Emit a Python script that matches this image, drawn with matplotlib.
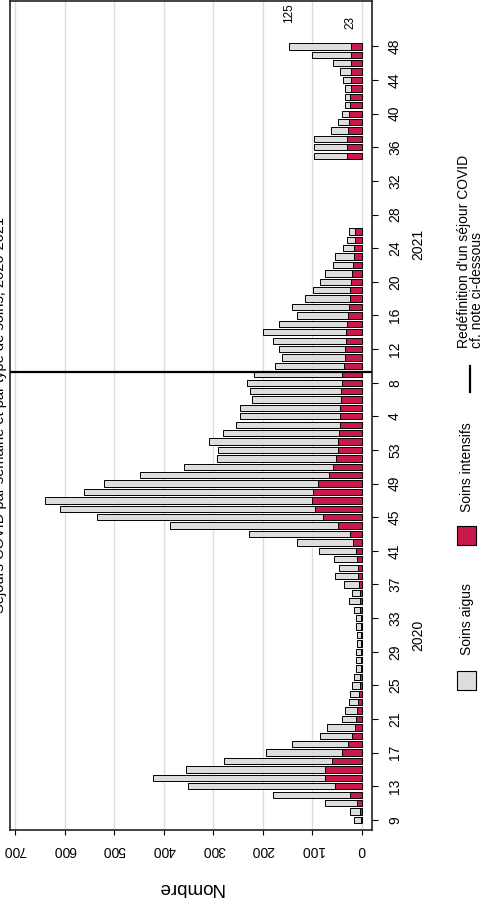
import matplotlib.pyplot as plt
import matplotlib.transforms as mtransforms
from matplotlib.patches import Rectangle
from matplotlib.lines import Line2D
import numpy as np

plt.rcParams['font.family'] = ['Liberation Sans', 'DejaVu Sans']

# semaines 2020 (9..53) et 2021 (1..48)
weeks_2020 = list(range(9, 54))
weeks_2021 = list(range(1, 49))

aigus_2020 = [14, 19, 64, 156, 297, 348, 282, 219, 153, 112, 64, 56, 28, 24, 19, 18,
              15, 13, 10, 10, 10, 7, 7, 10, 10, 13, 22, 15, 31, 46, 39, 47, 75, 114,
              204, 340, 457, 515, 540, 462, 432, 382, 302, 240, 242]
intensifs_2020 = [3, 5, 10, 24, 55, 74, 74, 60, 40, 29, 20, 15, 12, 10, 8, 6,
                  5, 4, 3, 3, 3, 3, 3, 3, 3, 4, 5, 5, 6, 8, 8, 10, 12, 18,
                  25, 48, 78, 95, 100, 98, 88, 66, 58, 52, 48]

aigus_2021 = [260, 234, 209, 202, 202, 179, 185, 191, 178, 138, 126, 133, 147, 168,
              137, 103, 114, 90, 75, 63, 55, 40, 37, 22, 15, 12,
              None, None, None, None, None, None, None, None,
              65, 66, 67, 34, 21, 15, 10, 11, 12, 16, 22, 36, 78, 125]
intensifs_2021 = [48, 46, 45, 44, 44, 43, 42, 41, 40, 37, 35, 34, 33, 32,
                  30, 28, 27, 25, 24, 22, 20, 18, 17, 16, 15, 14,
                  None, None, None, None, None, None, None, None,
                  31, 31, 30, 28, 27, 26, 25, 24, 23, 22, 22, 22, 22, 23]

tick_weeks_2020 = [9, 13, 17, 21, 25, 29, 33, 37, 41, 45, 49, 53]
tick_weeks_2021 = [4, 8, 12, 16, 20, 24, 28, 32, 36, 40, 44, 48]
redef_week_2021 = 9

gris = '#dedddd'
rouge = '#c8184c'

W, H = 485, 905
n20 = len(weeks_2020)
pos_all = np.arange(n20 + len(weeks_2021))
aigus_all = aigus_2020 + aigus_2021
intens_all = intensifs_2020 + intensifs_2021
keep = np.array([v is not None for v in aigus_all])
pos = pos_all[keep]
aigus = np.array([v for v in aigus_all if v is not None])
intens = np.array([v for v in intens_all if v is not None])

def week_pos(year, w):
    if year == 2020:
        return weeks_2020.index(w)
    return n20 + weeks_2021.index(w)

fig = plt.figure(figsize=(W / 100, H / 100), dpi=100)
ax = fig.add_axes([10 / W, 1 - 830 / H, 362 / W, 829 / H])

ax.barh(pos, intens, height=0.75, color=rouge, edgecolor='black', linewidth=0.7, zorder=2)
ax.barh(pos, aigus, left=intens, height=0.75, color=gris, edgecolor='black', linewidth=0.7, zorder=2)

# ligne de redéfinition
ax.axhline(week_pos(2021, redef_week_2021) + 0.3, color='black', lw=1.6, zorder=5)

ax.set_xlim(710, -20)
ax.set_ylim(-1.2, 97.4)

ax.set_xticks(range(0, 701, 100))
ax.grid(axis='x', color='#dcdcdc', lw=1)
ax.set_axisbelow(True)
ax.tick_params(axis='x', length=3.6, pad=6, labelsize=10, labelrotation=180)

ticks = [week_pos(2020, w) for w in tick_weeks_2020] + [week_pos(2021, w) for w in tick_weeks_2021]
labels = [str(w) for w in tick_weeks_2020 + tick_weeks_2021]
ax.yaxis.tick_right()
ax.set_yticks(ticks)
ax.set_yticklabels(labels, rotation=90, va='center')
ax.tick_params(axis='y', length=4.5, pad=7, labelsize=10)

for s in ax.spines.values():
    s.set_linewidth(1.2)
    s.set_color('#222222')

# étiquettes de la dernière semaine
last = pos[-1]
ax.text(intens[-1] + aigus[-1], last + 4.0, str(aigus[-1]), rotation=90,
        ha='center', va='center', fontsize=8.5)
ax.text(intens[-1], last + 2.8, str(intens[-1]), rotation=90,
        ha='center', va='center', fontsize=8.5)

# années
tr = mtransforms.blended_transform_factory(fig.transFigure, ax.transData)
ax.text(418 / W, np.mean([week_pos(2020, w) for w in weeks_2020]), '2020', rotation=90,
        ha='center', va='center', fontsize=10, transform=tr)
ax.text(418 / W, np.mean([week_pos(2021, w) for w in weeks_2021]), '2021', rotation=90,
        ha='center', va='center', fontsize=10, transform=tr)

fig.text(190 / W, 1 - 887 / H, 'Nombre', rotation=180, ha='center', va='center', fontsize=13.5)

# titre (coupé)
fig.text(7 / W, 1 - 415 / H, 'Séjours COVID par semaine et par type de soins, 2020-2021',
         rotation=90, ha='right', va='center', fontsize=10.5)

# légende
fig.patches.append(Rectangle((457 / W, 1 - 690 / H), 19 / W, 19 / H, transform=fig.transFigure,
                             facecolor=gris, edgecolor='black', lw=0.8))
fig.text(467 / W, 1 - 655 / H, 'Soins aigus', rotation=90, ha='center', va='bottom', fontsize=10)
fig.patches.append(Rectangle((457 / W, 1 - 545 / H), 19 / W, 19 / H, transform=fig.transFigure,
                             facecolor=rouge, edgecolor='black', lw=0.8))
fig.text(467 / W, 1 - 512 / H, 'Soins intensifs', rotation=90, ha='center', va='bottom', fontsize=10)
fig.lines.append(Line2D([470 / W, 470 / W], [1 - 392 / H, 1 - 366 / H], color='black', lw=1.6,
                        transform=fig.transFigure))
fig.text(470.5 / W, 1 - 348 / H, "Redéfinition d'un séjour COVID\ncf. note ci-dessous",
         rotation=90, ha='center', va='bottom', multialignment='left', linespacing=0.95, fontsize=10)

fig.savefig('out.png', dpi=100)
